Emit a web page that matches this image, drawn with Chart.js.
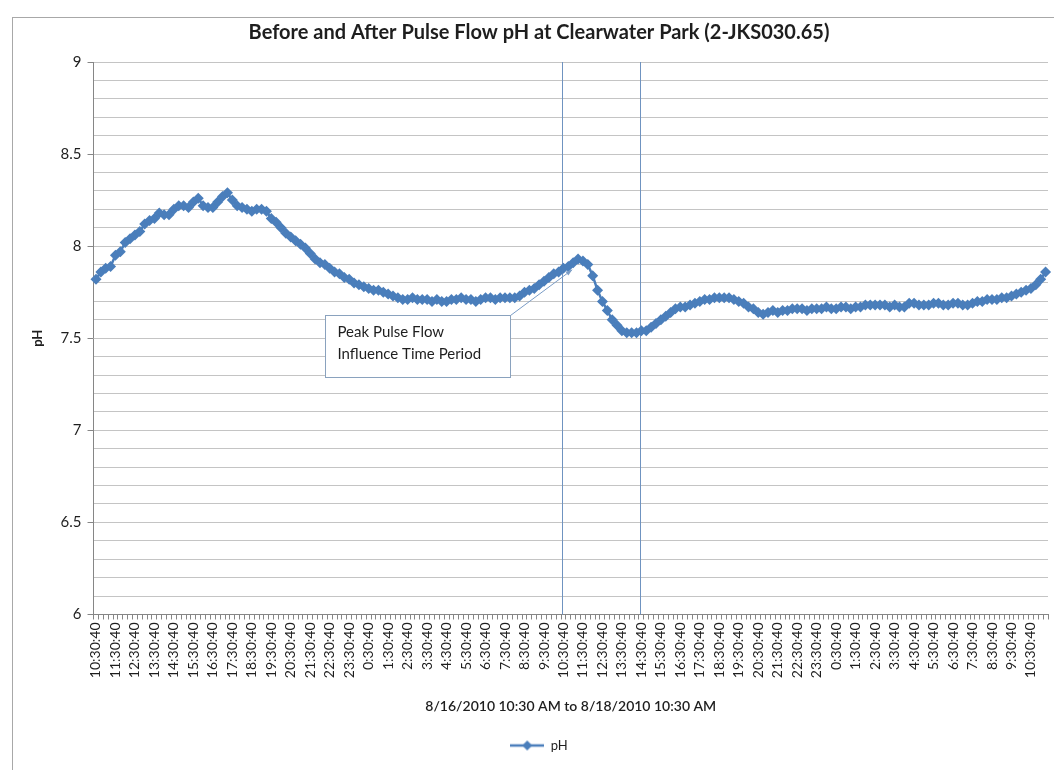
<!DOCTYPE html>
<html>
<head>
<meta charset="utf-8">
<title>pH at Clearwater Park</title>
<script src="https://cdn.jsdelivr.net/npm/chart.js@4.4.1/dist/chart.umd.min.js"></script>
<style>
  html, body { margin: 0; padding: 0; background: #fff; }
  #wrap { position: relative; width: 1054px; height: 770px; overflow: hidden; }
  #frame { position: absolute; left: 12px; top: 17px; width: 1100px; height: 800px; border-left: 1px solid #a8a8a8; border-top: 1px solid #a8a8a8; }
  canvas { position: absolute; left: 0; top: 0; }
</style>
</head>
<body>
<div id="wrap">
  <div id="frame"></div>
  <canvas id="phChart" width="1054" height="770"></canvas>
</div>
<script>
(function () {
    'use strict';

    // 15-minute readings, 8/16/2010 10:30:40 onward
    var phValues = [
        7.82, 7.86, 7.88, 7.89,   7.95, 7.97, 8.02, 8.04,   8.06, 8.08, 8.12, 8.14,
        8.15, 8.18, 8.17, 8.17,   8.20, 8.22, 8.22, 8.21,   8.24, 8.26, 8.22, 8.21,
        8.21, 8.24, 8.27, 8.29,   8.25, 8.22, 8.21, 8.20,   8.19, 8.20, 8.20, 8.19,
        8.15, 8.13, 8.10, 8.07,   8.05, 8.03, 8.01, 7.99,   7.96, 7.93, 7.91, 7.90,
        7.88, 7.86, 7.85, 7.83,   7.82, 7.80, 7.79, 7.78,   7.77, 7.76, 7.76, 7.75,
        7.74, 7.73, 7.72, 7.71,   7.71, 7.72, 7.71, 7.71,   7.71, 7.70, 7.71, 7.70,
        7.70, 7.71, 7.71, 7.72,   7.71, 7.71, 7.70, 7.71,   7.72, 7.72, 7.71, 7.72,
        7.72, 7.72, 7.72, 7.73,   7.75, 7.76, 7.77, 7.79,   7.81, 7.83, 7.85, 7.86,
        7.88, 7.89, 7.91, 7.93,   7.92, 7.90, 7.84, 7.76,   7.70, 7.65, 7.60, 7.57,
        7.54, 7.53, 7.53, 7.53,   7.54, 7.54, 7.56, 7.58,   7.60, 7.62, 7.64, 7.66,
        7.67, 7.67, 7.68, 7.69,   7.70, 7.71, 7.71, 7.72,   7.72, 7.72, 7.72, 7.71,
        7.70, 7.69, 7.67, 7.66,   7.64, 7.63, 7.64, 7.65,   7.64, 7.65, 7.65, 7.66,
        7.66, 7.66, 7.65, 7.66,   7.66, 7.66, 7.67, 7.66,   7.66, 7.67, 7.67, 7.66,
        7.67, 7.67, 7.68, 7.68,   7.68, 7.68, 7.68, 7.67,   7.68, 7.67, 7.67, 7.69,
        7.69, 7.68, 7.68, 7.68,   7.69, 7.69, 7.68, 7.68,   7.69, 7.69, 7.68, 7.68,
        7.69, 7.70, 7.70, 7.71,   7.71, 7.71, 7.72, 7.72,   7.73, 7.74, 7.75, 7.76,
        7.77, 7.79, 7.82, 7.86
    ];
    var startMinute = 10 * 60 + 30;
    var stepMinutes = 15;
    var labelEvery = 4;
    var categories = phValues.map(function (v, i) {
        var m = (startMinute + i * stepMinutes) % 1440;
        var mm = m % 60;
        return Math.floor(m / 60) + ':' + (mm < 10 ? '0' : '') + mm + ':40';
    });
    var periodMarks = [96, 112];            // 10:30:40 and 14:30:40 on 8/17
    var noteText = ['Peak Pulse Flow', 'Influence Time Period'];
    var noteBox = { from: 47, to: 85, top: 7.625, bottom: 7.29, pointTo: 98 };

    var blue = '#4a7ebb';
    var textColor = '#1e1e1e';
    var font = 'Lato';

    var legendIcon = document.createElement('canvas');
    legendIcon.width = 34;
    legendIcon.height = 12;
    var g = legendIcon.getContext('2d');
    g.strokeStyle = blue;
    g.lineWidth = 2.5;
    g.beginPath(); g.moveTo(0, 6); g.lineTo(34, 6); g.stroke();
    g.fillStyle = blue;
    g.beginPath(); g.moveTo(17, 1); g.lineTo(22, 6); g.lineTo(17, 11); g.lineTo(12, 6); g.closePath(); g.fill();

    var extras = {
        id: 'extras',
        beforeDatasetsDraw: function (chart) {
            var c = chart.ctx, x = chart.scales.x, area = chart.chartArea;
            c.save();
            c.strokeStyle = '#6f93c0';
            c.lineWidth = 1;
            periodMarks.forEach(function (idx) {
                var px = Math.round(x.getPixelForValue(idx)) - 0.5;
                c.beginPath(); c.moveTo(px, area.top); c.lineTo(px, area.bottom); c.stroke();
            });
            c.restore();
        },
        afterDatasetsDraw: function (chart) {
            var c = chart.ctx, x = chart.scales.x, y = chart.scales.y;
            var l = Math.round(x.getPixelForValue(noteBox.from)) + 0.5;
            var r = Math.round(x.getPixelForValue(noteBox.to)) + 0.5;
            var t = Math.round(y.getPixelForValue(noteBox.top)) + 0.5;
            var b = Math.round(y.getPixelForValue(noteBox.bottom)) + 0.5;
            var tx = x.getPixelForValue(noteBox.pointTo) - 1;
            var ty = y.getPixelForValue(phValues[noteBox.pointTo]) + 7;
            c.save();
            c.strokeStyle = '#7a9cc6';
            c.lineWidth = 1;
            c.beginPath(); c.moveTo(r, t); c.lineTo(tx, ty); c.stroke();
            var ang = Math.atan2(ty - t, tx - r);
            c.fillStyle = '#7a9cc6';
            c.beginPath();
            c.moveTo(tx, ty);
            c.lineTo(tx - 7 * Math.cos(ang - 0.35), ty - 7 * Math.sin(ang - 0.35));
            c.lineTo(tx - 7 * Math.cos(ang + 0.35), ty - 7 * Math.sin(ang + 0.35));
            c.closePath(); c.fill();
            c.fillStyle = '#fff';
            c.fillRect(l, t, r - l, b - t);
            c.strokeStyle = '#8aa2be';
            c.strokeRect(l, t, r - l, b - t);
            c.fillStyle = textColor;
            c.font = '15px ' + font;
            c.textBaseline = 'middle';
            c.fillText(noteText[0], l + 12, t + 17);
            c.fillText(noteText[1], l + 12, t + 39);
            c.restore();
        }
    };

    new Chart(document.getElementById('phChart'), {
        type: 'line',
        data: {
            labels: categories,
            datasets: [{
                label: 'pH',
                data: phValues,
                borderColor: blue,
                backgroundColor: blue,
                borderWidth: 2.5,
                pointStyle: 'rectRot',
                pointRadius: 5.5,
                pointBorderWidth: 0,
                pointBackgroundColor: blue,
                tension: 0,
                fill: false
            }]
        },
        plugins: [extras],
        options: {
            responsive: false,
            animation: false,
            layout: { padding: { left: 30, right: 6, top: 21, bottom: 8 } },
            plugins: {
                title: {
                    display: true,
                    text: 'Before and After Pulse Flow pH at Clearwater Park (2-JKS030.65)',
                    color: textColor,
                    font: { family: font, size: 20, weight: 'bold' },
                    padding: { top: 0, bottom: 17 }
                },
                legend: {
                    position: 'bottom',
                    labels: {
                        usePointStyle: true,
                        pointStyleWidth: 34,
                        color: textColor,
                        font: { family: font, size: 13 },
                        generateLabels: function (chart) {
                            var items = Chart.defaults.plugins.legend.labels.generateLabels(chart);
                            items.forEach(function (it) { it.pointStyle = legendIcon; });
                            return items;
                        }
                    }
                },
                tooltip: { enabled: false }
            },
            scales: {
                x: {
                    offset: true,
                    afterFit: function (scale) { scale.paddingLeft = 0; scale.paddingRight = 0; },
                    grid: { offset: true, drawOnChartArea: false, tickLength: 5, color: '#868686' },
                    border: { color: '#868686' },
                    ticks: {
                        autoSkip: false,
                        minRotation: 90,
                        maxRotation: 90,
                        padding: 3,
                        color: textColor,
                        font: { family: font, size: 14 },
                        callback: function (v, i) { return i % labelEvery === 0 ? categories[i] : ''; }
                    },
                    title: {
                        display: true,
                        text: '8/16/2010 10:30 AM to 8/18/2010 10:30 AM',
                        color: textColor,
                        font: { family: font, size: 14, weight: '600' },
                        padding: { top: 17, bottom: 14 }
                    }
                },
                y: {
                    min: 6,
                    max: 9,
                    border: { color: '#868686' },
                    grid: {
                        color: '#c4c4c4',
                        tickLength: 6,
                        tickColor: function (ctx) {
                            var v = ctx.tick ? ctx.tick.value : 0;
                            return Math.abs(v * 2 - Math.round(v * 2)) < 1e-6 ? '#868686' : 'rgba(0,0,0,0)';
                        }
                    },
                    ticks: {
                        stepSize: 0.1,
                        autoSkip: false,
                        padding: 6,
                        color: textColor,
                        font: { family: font, size: 15 },
                        callback: function (v) {
                            var r = Math.round(v * 10) / 10;
                            return Math.abs(r * 2 - Math.round(r * 2)) < 1e-6 ? String(r) : '';
                        }
                    },
                    title: {
                        display: true,
                        text: 'pH',
                        color: textColor,
                        font: { family: font, size: 13, weight: 'bold' },
                        padding: { top: 0, bottom: 9 }
                    }
                }
            }
        }
    });
}());
</script>
</body>
</html>
